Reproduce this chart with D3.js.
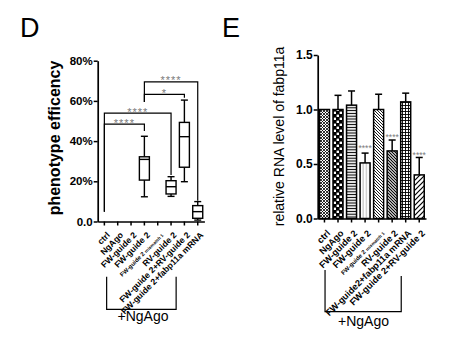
<!DOCTYPE html>
<html>
<head>
<meta charset="utf-8">
<script src="https://cdn.jsdelivr.net/npm/d3@7"></script>
<style>
  body { margin: 0; background: #fff; }
  svg { display: block; font-family: "Liberation Sans", Arial, sans-serif; }
</style>
</head>
<body>
<div id="chart"></div>
<script>
// ---------- data ----------
// panel D : box plots (values in %)
const catsD = ["ctrl", "NgAgo", "FW-guide 2", "FW-guide 2", "FW-guide 2|mismatch 1",
  "RV-guide 2", "FW-guide 2+RV-guide 2", "FW-guide 2+fabp11a mRNA"];
const boxIdx = [3, 5, 6, 7];
const boxMin = [12.3, 12.5, 19.8, 0.7];
const boxQ1 = [20.6, 13.7, 27.0, 1.6];
const boxMed = [30.9, 17.3, 42.2, 4.9];
const boxQ3 = [32.2, 20.3, 49.3, 7.9];
const boxMax = [42.4, 22.3, 60.4, 9.9];
const ticksD = [0, 20, 40, 60, 80];
// significance brackets: from, to, top, left leg end, right leg end, label
const sigFrom = [0, 0, 3, 3];
const sigTo = [3, 5, 6, 7];
const sigTop = [48.4, 53.9, 63.2, 69.5];
const sigLeftEnd = [4.9, 4.9, 59.5, 59.5];
const sigRightEnd = [45.0, 23.1, 61.6, 10.3];
const sigLabel = ["****", "****", "*", "****"];

// panel E : bars
const catsE = ["ctrl", "NgAgo", "FW-guide 2", "FW-guide 2", "FW-guide 2|mismatch 1",
  "RV-guide 2", "FW-guide2+fabp11a mRNA", "FW-guide 2+RV-guide 2"];
const barVal = [1.0, 1.0, 1.04, 0.51, 1.0, 0.62, 1.07, 0.40];
const barErr = [0, 0.13, 0.13, 0.09, 0.14, 0.10, 0.08, 0.16];
const barPattern = ["cross", "checker", "hstripe", "vline", "diagA", "diagB", "grid", "zig"];
const starIdx = [3, 5, 7];
const starAt = [0.668, 0.766, 0.604];
const ticksE = [0, 0.5, 1.0, 1.5];

// ---------- svg ----------
const W = 452, H = 351;
const svg = d3.select("#chart").append("svg").attr("width", W).attr("height", H);
const defs = svg.append("defs");

function pat(id, w, h, bg, draw) {
  const p = defs.append("pattern").attr("id", id).attr("patternUnits", "userSpaceOnUse")
    .attr("width", w).attr("height", h);
  p.append("rect").attr("width", w).attr("height", h).attr("fill", bg);
  draw(p);
}
pat("cross", 3, 3, "#fff", p => p.append("path").attr("d", "M0,0L3,3M3,0L0,3").attr("stroke", "#000").attr("stroke-width", 0.8));
pat("checker", 6, 6, "#000", p => {
  p.append("rect").attr("x", 0.6).attr("y", 0.6).attr("width", 2.4).attr("height", 2.4).attr("fill", "#fff");
  p.append("rect").attr("x", 3.6).attr("y", 3.6).attr("width", 2.4).attr("height", 2.4).attr("fill", "#fff");
});
pat("hstripe", 4, 2.8, "#fff", p => p.append("path").attr("d", "M0,1.4H4").attr("stroke", "#000").attr("stroke-width", 1.1));
pat("vline", 3.2, 4, "#fff", p => p.append("path").attr("d", "M1.6,0V4").attr("stroke", "#777").attr("stroke-width", 0.6));
pat("diagA", 3, 3, "#fff", p => p.append("path").attr("d", "M0,0L3,3M-1,2L1,4M2,-1L4,1").attr("stroke", "#000").attr("stroke-width", 0.9));
pat("diagB", 3, 3, "#fff", p => p.append("path").attr("d", "M0,0L3,3M-1,2L1,4M2,-1L4,1").attr("stroke", "#000").attr("stroke-width", 1.2));
pat("grid", 3, 3, "#fff", p => p.append("path").attr("d", "M0,0.5H3M0.5,0V3").attr("stroke", "#000").attr("stroke-width", 0.9));
pat("zig", 5, 5, "#fff", p => p.append("path").attr("d", "M0,5L5,0M-1,1L1,-1M4,6L6,4").attr("stroke", "#000").attr("stroke-width", 1.2));

function styleAxis(g) {
  g.selectAll("path.domain").attr("stroke", "#000").attr("stroke-width", 1.7);
  g.selectAll(".tick line").attr("stroke", "#000").attr("stroke-width", 1.5);
}

function xLabels(g, cats, x, y0, dx, dy, fs) {
  cats.forEach((c, i) => {
    const t = g.append("text")
      .attr("transform", `translate(${x(i) + x.bandwidth() / 2 + dx},${y0 + dy}) rotate(-45)`)
      .attr("text-anchor", "end").attr("dy", "0.35em")
      .attr("font-weight", "bold").attr("font-size", fs).attr("fill", "#000");
    if (c.includes("|")) {
      const parts = c.split("|");
      t.append("tspan").attr("font-size", 6).text(parts[0] + " ");
      t.append("tspan").attr("font-size", 4.5).text(parts[1]);
    } else {
      t.text(c);
    }
  });
}

// ---------- panel D ----------
const gD = svg.append("g");
const yD = d3.scaleLinear().domain([0, 80]).range([221.5, 60.7]);
const xD = d3.scaleBand().domain(d3.range(catsD.length)).range([97.7, 204.4]);
const cx = i => xD(i) + xD.bandwidth() / 2;

gD.append("text").attr("x", 20).attr("y", 37).attr("font-size", 27).text("D");

gD.append("g").attr("transform", "translate(97.7,0)")
  .call(d3.axisLeft(yD).tickValues(ticksD).tickSize(4).tickSizeOuter(0)
    .tickFormat(d => d === 0 ? "0.0" : d + "%"))
  .call(styleAxis)
  .call(g => g.selectAll(".tick text").attr("font-size", 11.5).attr("font-weight", "bold")
    .attr("fill", "#000").attr("font-family", "Liberation Sans, Arial, sans-serif").attr("x", -5));

gD.append("g").attr("transform", "translate(0,221.5)")
  .call(d3.axisBottom(xD).tickSize(4).tickSizeOuter(0).tickFormat(""))
  .call(styleAxis);

gD.append("text")
  .attr("transform", "translate(60,138) rotate(-90)")
  .attr("text-anchor", "middle").attr("font-size", 16).attr("font-weight", "bold")
  .text("phenotype efficency");

xLabels(gD, catsD, xD, 221.5, 4, 12, 8.6);

// boxes
const bw = 10, cw = 7;
boxIdx.forEach((ci, k) => {
  const x0 = cx(ci);
  const g = gD.append("g").attr("stroke", "#000").attr("stroke-width", 1.4).attr("fill", "none");
  g.append("line").attr("x1", x0).attr("x2", x0).attr("y1", yD(boxMax[k])).attr("y2", yD(boxQ3[k]));
  g.append("line").attr("x1", x0).attr("x2", x0).attr("y1", yD(boxQ1[k])).attr("y2", yD(boxMin[k]));
  g.append("line").attr("x1", x0 - cw / 2).attr("x2", x0 + cw / 2).attr("y1", yD(boxMax[k])).attr("y2", yD(boxMax[k]));
  g.append("line").attr("x1", x0 - cw / 2).attr("x2", x0 + cw / 2).attr("y1", yD(boxMin[k])).attr("y2", yD(boxMin[k]));
  g.append("rect").attr("x", x0 - bw / 2).attr("width", bw)
    .attr("y", yD(boxQ3[k])).attr("height", yD(boxQ1[k]) - yD(boxQ3[k])).attr("fill", "#fff");
  g.append("line").attr("x1", x0 - bw / 2).attr("x2", x0 + bw / 2).attr("y1", yD(boxMed[k])).attr("y2", yD(boxMed[k]));
});

// significance brackets
sigFrom.forEach((f, k) => {
  const xa = cx(f), xb = cx(sigTo[k]), yt = yD(sigTop[k]);
  gD.append("path")
    .attr("d", `M${xa},${yD(sigLeftEnd[k])}V${yt}H${xb}V${yD(sigRightEnd[k])}`)
    .attr("fill", "none").attr("stroke", "#000").attr("stroke-width", 1.2);
  gD.append("text").attr("x", (xa + xb) / 2).attr("y", yt + 2.5)
    .attr("text-anchor", "middle").attr("font-size", 11).attr("letter-spacing", 1)
    .attr("fill", "#7a7a7a").text(sigLabel[k]);
});

// +NgAgo bracket
gD.append("path").attr("d", `M${cx(2) - 24.4},276.7V309.3H${cx(7) - 21.6}V276.7`)
  .attr("fill", "none").attr("stroke", "#000").attr("stroke-width", 1.2);
gD.append("text").attr("x", 143).attr("y", 320.7).attr("text-anchor", "middle")
  .attr("font-size", 14).text("+NgAgo");

// ---------- panel E ----------
const gE = svg.append("g");
const yE = d3.scaleLinear().domain([0, 1.5]).range([218.5, 55]);
const xE = d3.scaleBand().domain(d3.range(catsE.length)).range([317.7, 426]);
const ex = i => xE(i) + xE.bandwidth() / 2;

gE.append("text").attr("x", 222).attr("y", 37).attr("font-size", 27).text("E");

// bars first so axis sits on top
const bwE = 10, cwE = 7;
barVal.forEach((v, i) => {
  const x0 = ex(i);
  if (barErr[i] > 0) {
    gE.append("line").attr("x1", x0).attr("x2", x0).attr("y1", yE(v)).attr("y2", yE(v + barErr[i]))
      .attr("stroke", "#000").attr("stroke-width", 1.5);
    gE.append("line").attr("x1", x0 - cwE / 2).attr("x2", x0 + cwE / 2)
      .attr("y1", yE(v + barErr[i])).attr("y2", yE(v + barErr[i]))
      .attr("stroke", "#000").attr("stroke-width", 1.5);
  }
  gE.append("rect").attr("x", x0 - bwE / 2).attr("width", bwE)
    .attr("y", yE(v)).attr("height", yE(0) - yE(v))
    .attr("fill", `url(#${barPattern[i]})`).attr("stroke", "#000").attr("stroke-width", 1.5);
});

starIdx.forEach((ci, k) => {
  gE.append("text").attr("x", ex(ci)).attr("y", yE(starAt[k]) + 5)
    .attr("text-anchor", "middle").attr("font-size", 8.5).attr("fill", "#7a7a7a").text("****");
});

gE.append("g").attr("transform", "translate(317.7,0)")
  .call(d3.axisLeft(yE).tickValues(ticksE).tickSize(4).tickSizeOuter(0).tickFormat(d3.format(".1f")))
  .call(styleAxis)
  .call(g => g.selectAll(".tick text").attr("font-size", 12).attr("font-weight", "bold")
    .attr("fill", "#000").attr("font-family", "Liberation Sans, Arial, sans-serif").attr("x", -5));

gE.append("g").attr("transform", "translate(0,218.5)")
  .call(d3.axisBottom(xE).tickSize(4).tickSizeOuter(0).tickFormat(""))
  .call(styleAxis);

gE.append("text")
  .attr("transform", "translate(284,136.5) rotate(-90)")
  .attr("text-anchor", "middle").attr("font-size", 14)
  .text("relative RNA level of fabp11a");

xLabels(gE, catsE, xE, 218.5, 4, 13, 9.2);

gE.append("path").attr("d", `M${ex(2) - 26.5},270V311.7H${ex(7) - 18}V276`)
  .attr("fill", "none").attr("stroke", "#000").attr("stroke-width", 1.2);
gE.append("text").attr("x", 363.5).attr("y", 325.7).attr("text-anchor", "middle")
  .attr("font-size", 14).text("+NgAgo");
</script>
</body>
</html>
